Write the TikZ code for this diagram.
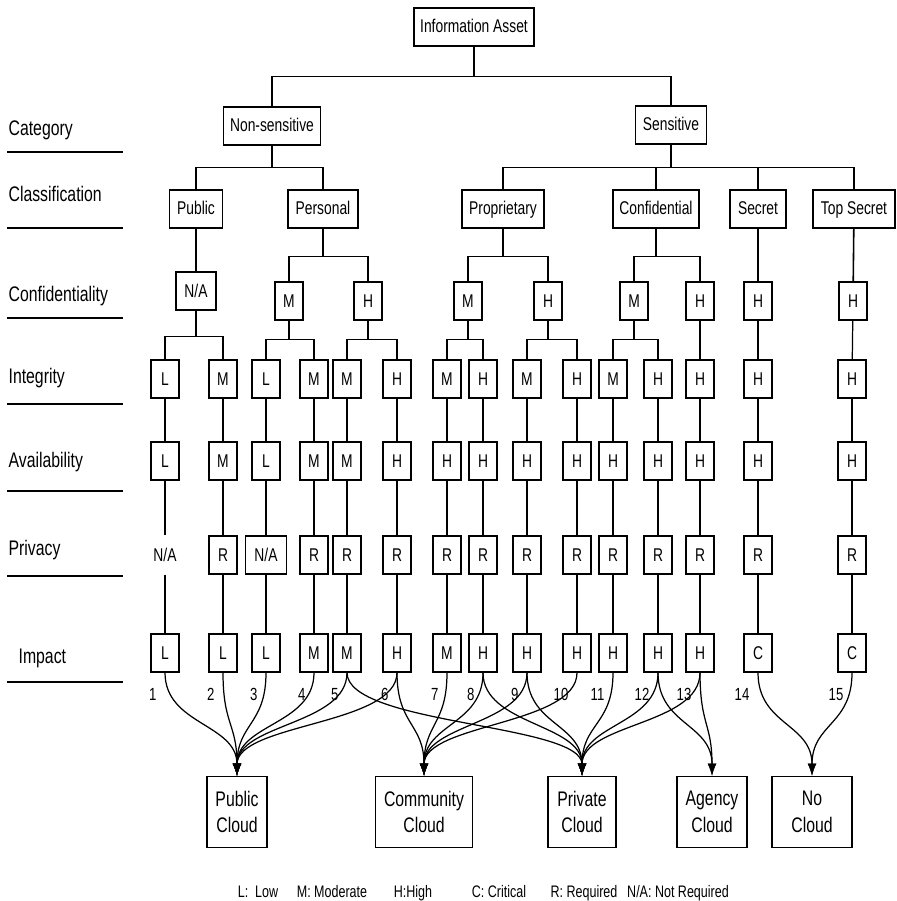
\documentclass[tikz,border=0pt]{standalone}
\usepackage{fontspec}
\setmainfont{Liberation Sans}[FakeStretch=0.75]
\usetikzlibrary{arrows.meta,positioning}

\newcommand{\NA}{N/A}

\tikzset{
  hbox/.style={draw, minimum height=0.76cm, inner sep=2pt, text height=1.6ex, text depth=0.45ex,
    font=\fontsize{10.5}{12}\selectfont},
  lvl/.style={draw, minimum width=0.56cm, minimum height=0.76cm, inner sep=1pt, font=\fontsize{10.5}{12}\selectfont},
  cloud/.style={draw, minimum height=1.42cm, align=center, font=\fontsize{12}{15.3}\selectfont},
  tree/.style={line width=0.9pt},
  side/.style={anchor=west, inner sep=0pt, font=\fontsize{12}{14}\selectfont},
  num/.style={inner sep=0pt, font=\fontsize{10}{11}\selectfont},
  legend/.style={anchor=base, inner sep=0pt, font=\fontsize{9.5}{10}\selectfont},
  feed/.style={-{Latex[length=7pt,width=5pt]}, line width=0.7pt,
    to path={.. controls +(0cm,-1.05cm) and +(0cm,1.05cm) .. (\tikztotarget)}},
}

\begin{document}
\begin{tikzpicture}[x=0.02cm, y=-0.02cm, line width=0.7pt]
  \useasboundingbox (0,0) rectangle (896,901);

  % row labels on the left
  \foreach \t/\y/\l in {Category/130/152, Classification/194/228, Confidentiality/296/318,
      Integrity/378/404, Availability/462/491, Privacy/550/576} {
    \node[side] (\t) at (8,\y) {\t};
    \draw (7,\l) -- (123,\l);
  }
  \node[side] (Impact) at (18,658) {Impact};
  \draw (7,682) -- (123,682);

  % category and classification
  \node[hbox, minimum width=2.4cm] (asset) at (474,27) {Information Asset};
  \node[hbox, minimum width=1.94cm] (nsens) at (272,126) {Non-sensitive};
  \node[hbox, minimum width=1.42cm] (sens) at (671,125) {Sensitive};
  \node[hbox, minimum width=1.06cm] (kpub) at (196,209) {Public};
  \node[hbox, minimum width=1.4cm] (kper) at (323,209) {Personal};
  \node[hbox, minimum width=1.64cm] (kpro) at (503,209) {Proprietary};
  \node[hbox, minimum width=1.72cm] (kcon) at (656,209) {Confidential};
  \node[hbox, minimum width=1.12cm] (ksec) at (758,209) {Secret};
  \node[hbox, minimum width=1.64cm] (ktop) at (854,209) {Top Secret};

  % confidentiality
  \node[lvl, minimum width=0.8cm] (c1) at (196,291) {\NA};
  \foreach \n/\x/\v in {2/289/M, 3/368/H, 4/468/M, 5/548/H, 6/634/M, 7/700/H, 8/758/H, 9/853/H}
    \node[lvl] (c\n) at (\x,301) {\v};

  % integrity, availability, impact
  \foreach \n/\x/\g/\a/\m in {1/165/L/L/L, 2/223/M/M/L, 3/266/L/L/L, 4/314/M/M/M, 5/347/M/M/M,
      6/397/H/H/H, 7/447/M/H/M, 8/483/H/H/H, 9/527/M/H/H, 10/577/H/H/H, 11/613/M/H/H,
      12/658/H/H/H, 13/700/H/H/H, 14/758/H/H/C, 15/852/H/H/C} {
    \node[lvl] (g\n) at (\x,379) {\g};
    \node[lvl] (a\n) at (\x,461) {\a};
    \node[lvl] (i\n) at (\x,653) {\m};
  }

  % privacy
  \node[lvl, draw=none] (p1) at (165,555) {\NA};
  \node[lvl, minimum width=0.82cm] (p3) at (266,555) {\NA};
  \foreach \n/\x in {2/223, 4/314, 5/347, 6/397, 7/447, 8/483, 9/527, 10/577,
      11/613, 12/658, 13/700, 14/758, 15/852}
    \node[lvl] (p\n) at (\x,555) {R};

  % tree
  \draw (asset.south) -- ++(0cm,-0.6cm) coordinate (ab) -| (nsens.north);
  \draw (ab) -| (sens.north);
  \draw[tree] (nsens.south) -- ++(0cm,-0.44cm) coordinate (nb) -| (kpub.north);
  \draw[tree] (nb) -| (kper.north);
  \draw[tree] (sens.south) -- ++(0cm,-0.46cm) coordinate (sb) -| (kpro.north);
  \draw[tree] (sb) -| (ktop.north);
  \draw[tree] (sb -| kcon.north) -- (kcon.north);
  \draw[tree] (sb -| ksec.north) -- (ksec.north);

  \draw (kpub) -- (c1);
  \foreach \k/\l/\r in {kper/c2/c3, kpro/c4/c5, kcon/c6/c7} {
    \draw[tree] (\k.south) -- ++(0cm,-0.56cm) coordinate (t\k) -| (\l.north);
    \draw[tree] (t\k) -| (\r.north);
  }
  \draw[tree] (ksec) -- (c8);
  \draw[tree] (ktop) -- (c9);

  \foreach \c/\l/\r/\d in {c1/g1/g2/0.52cm, c2/g3/g4/0.38cm, c3/g5/g6/0.38cm,
      c4/g7/g8/0.38cm, c5/g9/g10/0.38cm, c6/g11/g12/0.38cm} {
    \draw[tree] (\c.south) -- ++(0cm,-\d) coordinate (t\c) -| (\l.north);
    \draw[tree] (t\c) -| (\r.north);
  }
  \draw (c7) -- (g13);
  \draw (c8) -- (g14);
  \draw (c9) -- (g15);

  \foreach \n in {1,...,15}
    \draw (g\n) -- (a\n) -- (p\n) -- (i\n);

  % deployment
  \node[cloud, minimum width=1.2cm] (cpub) at (237,812) {Public\\Cloud};
  \node[cloud, minimum width=1.94cm] (ccom) at (424,812) {Community\\Cloud};
  \node[cloud, minimum width=1.36cm] (cpri) at (582,812) {Private\\Cloud};
  \node[cloud, minimum width=1.4cm] (cagy) at (712,812) {Agency\\Cloud};
  \node[cloud, minimum width=1.6cm] (cno) at (812,812) {No\\Cloud};

  \foreach \s/\t in {1/cpub, 2/cpub, 3/cpub, 4/cpub, 5/cpub, 6/cpub,
      6/ccom, 7/ccom, 8/ccom, 9/ccom, 10/ccom,
      5/cpri, 8/cpri, 9/cpri, 11/cpri, 12/cpri, 13/cpri,
      12/cagy, 13/cagy, 14/cno, 15/cno}
    \draw[feed] (i\s.south) to (\t.north);

  \foreach \n in {1,...,15}
    \node[num, below left=0.3cm and 0.16cm of i\n.south] (n\n) {\n};

  % legend
  \foreach \x/\t [count=\k] in {258/{L:\ \ Low}, 332/M: Moderate, 413/H:High,
      499/C: Critical, 584/R: Required, 678/\NA: Not Required}
    \node[legend] (leg\k) at (\x,897) {\t};
\end{tikzpicture}
\end{document}
